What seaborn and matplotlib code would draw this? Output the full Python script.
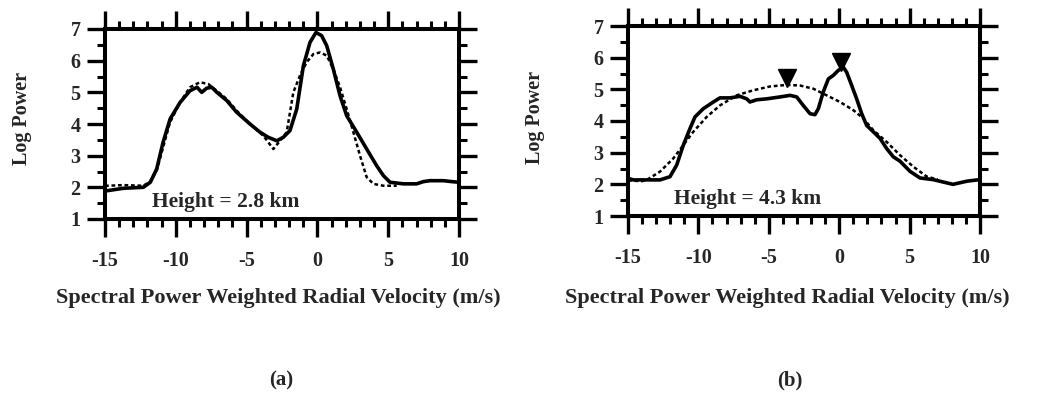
import numpy as np
import pandas as pd
import matplotlib
matplotlib.use("Agg")
import matplotlib.pyplot as plt
import seaborn as sns
from matplotlib.ticker import MultipleLocator

# ---------------- data ----------------
# Panel (a): height 2.8 km
a_obs_x = [-15.0, -14.9, -13.7, -12.3, -11.8, -11.35, -10.9, -10.4, -9.7, -9.0, -8.5, -8.17, -7.82, -7.46,
           -7.1, -6.4, -5.7, -4.76, -4.05, -3.47, -2.87, -2.41, -1.94, -1.46, -0.99, -0.52, -0.1,
           0.3, 0.66, 1.12, 1.6, 2.07, 2.78, 3.48, 4.19, 4.66, 5.13, 6.07, 7.01, 7.48, 7.95, 8.9, 9.5, 10.0]
a_obs_y = [1.9, 1.89, 1.97, 2.0, 2.16, 2.58, 3.42, 4.16, 4.68, 5.05, 5.16, 5.0, 5.13, 5.16,
           5.0, 4.74, 4.37, 4.0, 3.74, 3.58, 3.47, 3.58, 3.79, 4.47, 5.84, 6.58, 6.89,
           6.79, 6.47, 5.74, 4.89, 4.26, 3.74, 3.21, 2.68, 2.37, 2.16, 2.11, 2.11, 2.18, 2.21, 2.21, 2.18, 2.16]
a_fit_x = [-15.0, -14.88, -13.71, -12.29, -11.82, -11.35, -10.41, -9.7, -9.0, -8.29, -7.7, -7.11, -6.41,
           -5.7, -4.76, -3.82, -3.11, -2.64, -2.17, -1.7, -1.23, -0.76, -0.28, 0.19, 0.66, 1.12, 1.6,
           2.07, 2.54, 3.01, 3.48, 3.95, 4.66, 5.6]
a_fit_y = [2.05, 2.05, 2.07, 2.05, 2.18, 2.53, 4.05, 4.68, 5.16, 5.32, 5.26, 5.05, 4.79,
           4.42, 4.0, 3.63, 3.21, 3.47, 3.74, 5.0, 5.53, 5.95, 6.21, 6.26, 6.16, 5.74, 5.16,
           4.47, 3.74, 3.0, 2.32, 2.11, 2.05, 2.05]

# Panel (b): height 4.3 km
b_obs_x = [-15.0, -14.62, -13.67, -12.73, -12.02, -11.54, -11.07, -10.6, -10.24, -9.65, -8.94, -8.47,
           -7.76, -7.05, -6.57, -6.34, -5.86, -5.15, -4.2, -3.49, -3.02, -2.55, -2.07, -1.72, -1.48,
           -1.13, -0.77, -0.42, -0.06, 0.29, 0.53, 0.89, 1.24, 1.6, 1.95, 2.42, 2.9, 3.37, 3.84,
           4.32, 5.03, 5.74, 6.66, 8.08, 9.08, 10.0]
b_obs_y = [2.19, 2.14, 2.14, 2.14, 2.24, 2.61, 3.24, 3.76, 4.13, 4.39, 4.6, 4.73,
           4.73, 4.78, 4.7, 4.6, 4.67, 4.7, 4.76, 4.81, 4.76, 4.49, 4.23, 4.2, 4.39,
           4.92, 5.33, 5.44, 5.6, 5.7, 5.54, 5.12, 4.7, 4.23, 3.86, 3.66, 3.45, 3.13, 2.87,
           2.73, 2.41, 2.2, 2.15, 2.0, 2.1, 2.15]
b_fit_x = [-15.0, -14.0, -13.67, -12.73, -11.78, -11.07, -10.36, -9.41, -8.47, -7.29, -6.1, -4.92,
           -3.73, -2.78, -1.84, -0.89, 0.06, 1.01, 1.72, 2.42, 3.37, 4.32, 5.26, 5.74, 6.2, 7.0]
b_fit_y = [2.12, 2.1, 2.14, 2.4, 2.82, 3.24, 3.66, 4.13, 4.49, 4.81, 4.97, 5.09,
           5.14, 5.12, 5.02, 4.81, 4.6, 4.34, 4.08, 3.71, 3.34, 2.92, 2.56, 2.4, 2.25, 2.15]
b_peak_x = [-3.7, 0.1]
b_peak_y = [5.36, 5.86]

x_ticks = [-15, -10, -5, 0, 5, 10]
y_ticks = [1, 2, 3, 4, 5, 6, 7]
heights = ["Height = 2.8 km", "Height = 4.3 km"]
panel_tags = ["(a)", "(b)"]
x_label = "Spectral Power Weighted Radial Velocity (m/s)"
y_label = "Log Power"

# ---------------- style ----------------
sns.set_style("ticks")
plt.rcParams['font.family'] = ['Liberation Serif', 'DejaVu Serif']
plt.rcParams['font.weight'] = 'bold'

fig = plt.figure(figsize=(10.39, 4.04), dpi=100)
ax_a = fig.add_axes([105/1039, 1-219/404, 354/1039, 190/404])
ax_b = fig.add_axes([628/1039, 1-216/404, 352/1039, 190/404])

panels = [
    (ax_a, a_obs_x, a_obs_y, a_fit_x, a_fit_y),
    (ax_b, b_obs_x, b_obs_y, b_fit_x, b_fit_y),
]

for i, (ax, ox, oy, fx, fy) in enumerate(panels):
    df_fit = pd.DataFrame({"v": fx, "p": fy})
    df_obs = pd.DataFrame({"v": ox, "p": oy})
    sns.lineplot(data=df_fit, x="v", y="p", ax=ax, color="black", lw=1.8,
                 linestyle=(0, (1.5, 1.1)), estimator=None, sort=False)
    sns.lineplot(data=df_obs, x="v", y="p", ax=ax, color="black", lw=2.6,
                 estimator=None, sort=False)
    ax.set_xlim(-15, 10)
    ax.set_ylim(1, 7)
    ax.set_xticks(x_ticks)
    ax.set_yticks(y_ticks)
    ax.xaxis.set_minor_locator(MultipleLocator(1))
    ax.yaxis.set_minor_locator(MultipleLocator(0.5))
    ax.set_xticklabels([str(t) for t in x_ticks], fontsize=14.5, fontweight='bold')
    ax.set_yticklabels([str(t) for t in y_ticks], fontsize=14.5, fontweight='bold')
    ax.tick_params(which='major', direction='out', length=13, width=2.4,
                   top=True, right=True, color='black')
    ax.tick_params(which='minor', direction='out', length=5.5, width=2.2,
                   top=True, right=True, color='black')
    ax.tick_params(axis='x', which='major', pad=10)
    ax.tick_params(axis='y', which='major', pad=4.5)
    for s in ax.spines.values():
        s.set_linewidth(2.9)
        s.set_color('black')
        s.set_visible(True)
    ax.set_xlabel("")
    ax.set_ylabel(y_label, fontsize=14.5, fontweight='bold', labelpad=0)
    ax.text(-11.7, 1.55, heights[i], fontsize=15.5, fontweight='bold',
            ha='left', va='center')

ax_a.yaxis.set_label_coords(-0.206, 0.53)
ax_b.yaxis.set_label_coords(-0.236, 0.52)

ax_b.plot(b_peak_x, b_peak_y, linestyle='none', marker='v', color='black',
          markersize=13)

fig.text(278/1039, 1-298/404, x_label, fontsize=16, fontweight='bold',
         ha='center', va='center')
fig.text(787/1039, 1-298/404, x_label, fontsize=16, fontweight='bold',
         ha='center', va='center')
fig.text(281/1039, 1-380/404, panel_tags[0], fontsize=15, fontweight='bold',
         ha='center', va='center')
fig.text(790/1039, 1-380/404, panel_tags[1], fontsize=15, fontweight='bold',
         ha='center', va='center')

fig.savefig("out.png", dpi=100)
